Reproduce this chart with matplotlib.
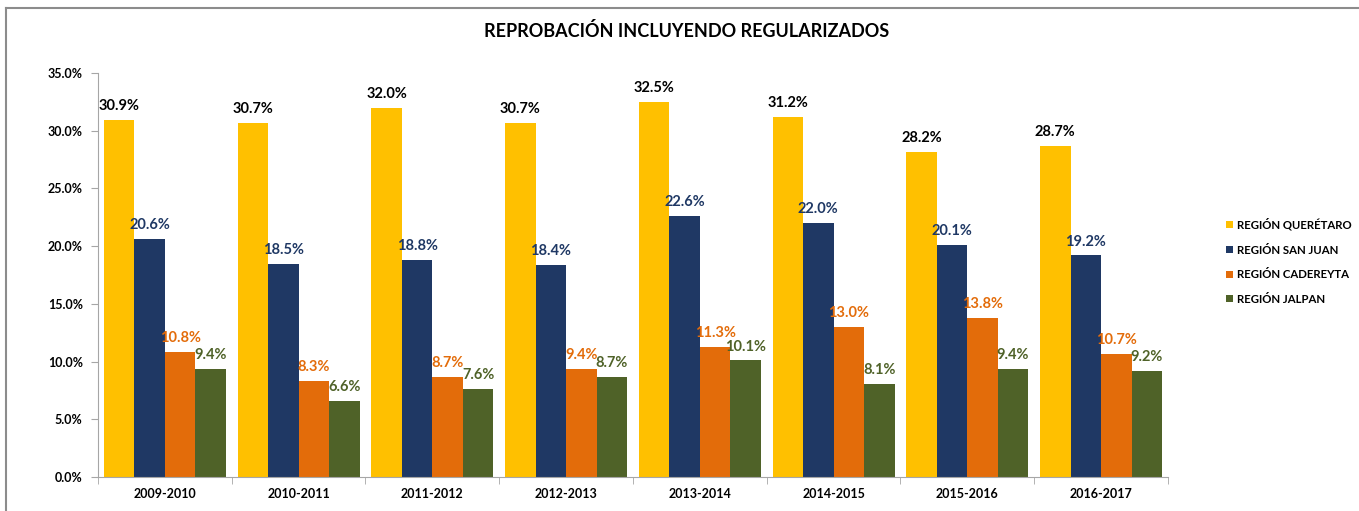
import matplotlib.pyplot as plt
import numpy as np

plt.rcParams['font.family'] = ['Lato', 'DejaVu Sans']
plt.rcParams['font.weight'] = 'bold'

cursos = ['2009-2010', '2010-2011', '2011-2012', '2012-2013',
          '2013-2014', '2014-2015', '2015-2016', '2016-2017']
queretaro = [30.9, 30.7, 32.0, 30.7, 32.5, 31.2, 28.2, 28.7]
san_juan = [20.6, 18.5, 18.8, 18.4, 22.6, 22.0, 20.1, 19.2]
cadereyta = [10.8, 8.3, 8.7, 9.4, 11.3, 13.0, 13.8, 10.7]
jalpan = [9.4, 6.6, 7.6, 8.7, 10.1, 8.1, 9.4, 9.2]

series = [
    ('REGIÓN QUERÉTARO', queretaro, '#FFC000', '#000000'),
    ('REGIÓN SAN JUAN', san_juan, '#1F3864', '#1F3864'),
    ('REGIÓN CADEREYTA', cadereyta, '#E36C0A', '#E36C0A'),
    ('REGIÓN JALPAN', jalpan, '#4F6228', '#4F6228'),
]

fig = plt.figure(figsize=(13.59, 5.11), dpi=100)
ax = fig.add_axes([0.0721, 0.0665, 0.7873, 0.7905])

x = np.arange(len(cursos))
w = 0.228
for i, (name, vals, col, lcol) in enumerate(series):
    pos = x + (i - 1.5) * w
    ax.bar(pos, vals, w, color=col, label=name)
    for p, v in zip(pos, vals):
        ax.text(p, v + 0.6, '%.1f%%' % v, ha='center', va='bottom',
                fontsize=10.5, fontweight='bold', color=lcol)

ax.set_xlim(-0.5, len(cursos) - 0.5)
ax.set_ylim(0, 35)
ax.set_yticks(np.arange(0, 36, 5))
ax.set_yticklabels(['%.1f%%' % t for t in np.arange(0, 36, 5)])
ax.set_xticks(x)
ax.set_xticklabels(cursos)
ax.set_xticks(np.arange(-0.5, len(cursos)), minor=True)
ax.tick_params(axis='x', which='major', length=0, labelsize=9, pad=8)
ax.tick_params(axis='x', which='minor', length=5, color='#A6A6A6')
ax.tick_params(axis='y', length=5, color='#A6A6A6', labelsize=9, pad=6)
for t in ax.get_xticklabels() + ax.get_yticklabels():
    t.set_fontweight('bold')
for s in ['top', 'right']:
    ax.spines[s].set_visible(False)
ax.spines['left'].set_color('#A6A6A6')
ax.spines['bottom'].set_color('#A6A6A6')

fig.text(0.505, 0.94, 'REPROBACIÓN INCLUYENDO REGULARIZADOS', ha='center',
         va='center', fontsize=13, fontweight='bold')

leg = fig.legend(loc='center left', bbox_to_anchor=(0.899, 0.488), frameon=False,
                 fontsize=8.2, handlelength=0.6, handleheight=0.6, handletextpad=0.3,
                 labelspacing=1.2, borderaxespad=0)
for t in leg.get_texts():
    t.set_fontweight('bold')

# marco del grafico
fig.add_artist(plt.Line2D([0.0045, 1.0], [0.984, 0.984], color='#8C8C8C', lw=1.5,
                          transform=fig.transFigure))
fig.add_artist(plt.Line2D([0.0045, 0.0045], [0.0, 0.984], color='#8C8C8C', lw=1.5,
                          transform=fig.transFigure))

fig.savefig('out.png', dpi=100)
